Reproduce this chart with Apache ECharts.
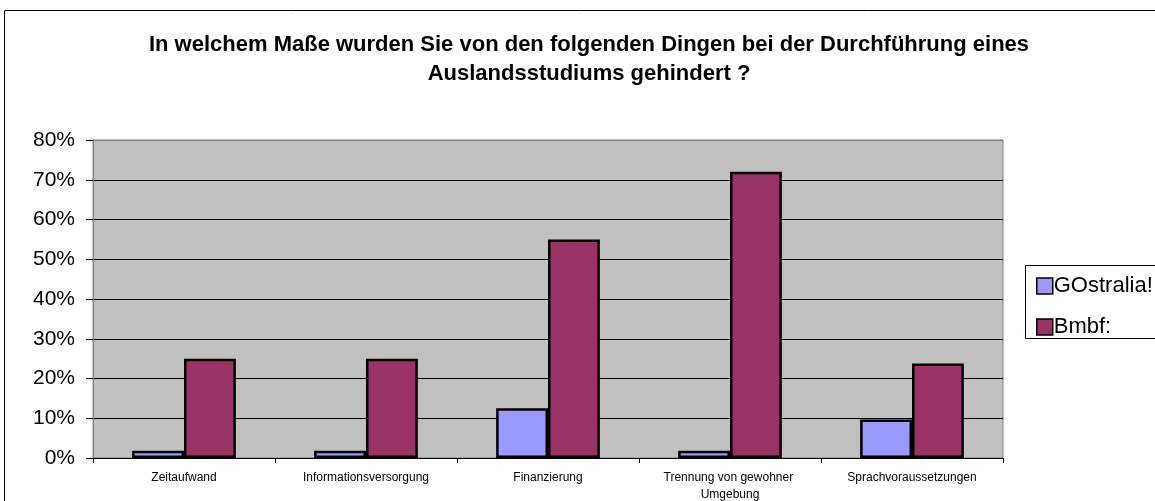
<!DOCTYPE html>
<html><head><meta charset="utf-8">
<script src="https://cdn.jsdelivr.net/npm/echarts@6/dist/echarts.min.js"></script>
<style>html,body{margin:0;padding:0;background:#fff}#c{width:1155px;height:501px}</style>
</head><body><div id="c"></div>
<script>
const titleText = 'In welchem Maße wurden Sie von den folgenden Dingen bei der Durchführung eines\nAuslandsstudiums gehindert ?';
const categories = ['Zeitaufwand', 'Informationsversorgung', 'Finanzierung', 'Trennung von gewohner Umgebung', 'Sprachvoraussetzungen'];
const seriesNames = ['GOstralia!', 'Bmbf:'];
const gostralia = [1.8, 1.8, 12.5, 1.8, 9.7];
const bmbf = [25, 25, 55, 72, 23.8];
const yTicks = [0, 10, 20, 30, 40, 50, 60, 70, 80];

const chart = echarts.init(document.getElementById('c'), null, {renderer: 'canvas'});
const F = 'Arial, "Liberation Sans", sans-serif';
chart.setOption({
  animation: false,
  backgroundColor: '#fff',
  title: {
    text: titleText, left: 584, textAlign: 'center', top: 25,
    textStyle: {fontFamily: F, fontSize: 22, fontWeight: 'bold', color: '#000', lineHeight: 29}
  },
  graphic: [
    {type: 'rect', shape: {x: 4.5, y: 10.5, width: 1300, height: 700}, style: {fill: 'none', stroke: '#000', lineWidth: 1}, z: -1},
    {type: 'rect', shape: {x: 1025.5, y: 265.5, width: 300, height: 73}, style: {fill: '#fff', stroke: '#000', lineWidth: 1}, z: 1}
  ],
  legend: {
    orient: 'vertical', left: 1031, top: 270, itemGap: 19,
    itemWidth: 16, itemHeight: 16, icon: 'rect', z: 5,
    itemStyle: {borderColor: '#000', borderWidth: 1.5},
    textStyle: {fontFamily: F, fontSize: 22, color: '#000', padding: [0, 0, 0, -4]},
    data: seriesNames
  },
  grid: {
    left: 93, right: 152, top: 140, bottom: 43, outerBoundsMode: 'none',
    show: true, backgroundColor: '#c0c0c0', borderColor: '#808080', borderWidth: 1
  },
  xAxis: {
    type: 'category', data: categories,
    axisLine: {lineStyle: {color: '#000', width: 1}},
    axisTick: {show: true, length: 5, lineStyle: {color: '#000'}},
    axisLabel: {fontFamily: F, fontSize: 12, color: '#000', margin: 11, lineHeight: 17, width: 150, overflow: 'break', interval: 0}
  },
  yAxis: {
    type: 'value', min: yTicks[0], max: yTicks[yTicks.length - 1], interval: 10,
    axisLine: {show: true, lineStyle: {color: '#808080'}},
    axisTick: {show: true, length: 7, lineStyle: {color: '#000'}},
    axisLabel: {fontFamily: F, fontSize: 21, color: '#000', margin: 18, formatter: v => v + '%'},
    splitLine: {show: true, lineStyle: {color: ['#000','#000','#000','#000','#000','#000','#000','#000','#808080'], width: 1}}
  },
  series: [
    {name: seriesNames[0], type: 'bar', data: gostralia, barGap: '0%', barCategoryGap: '43%',
     itemStyle: {color: '#9999ff', borderColor: '#000', borderWidth: 2.5}},
    {name: seriesNames[1], type: 'bar', data: bmbf,
     itemStyle: {color: '#993366', borderColor: '#000', borderWidth: 2.5}}
  ]
});
</script></body></html>
